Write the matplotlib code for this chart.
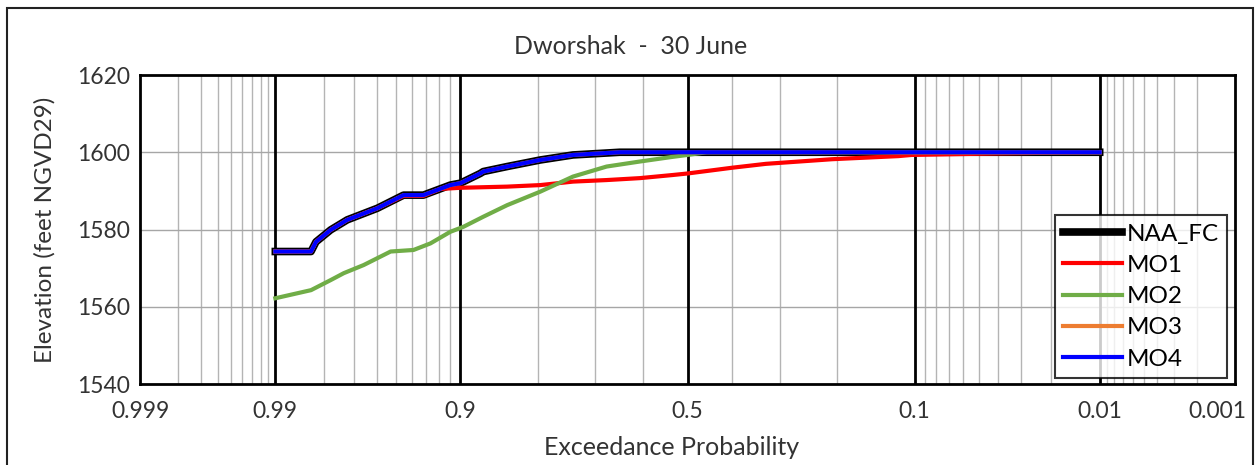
import numpy as np
import matplotlib
matplotlib.use("Agg")
import matplotlib.pyplot as plt
from matplotlib.patches import Rectangle
from matplotlib.transforms import ScaledTranslation
from statistics import NormalDist

plt.rcParams['font.family'] = ['Lato', 'DejaVu Sans']

# exceedance probability / elevation (ft)
naa_p = [0.99, 0.9832, 0.982, 0.978, 0.9726, 0.960, 0.9455, 0.932, 0.9097, 0.90,
         0.879, 0.8755, 0.8457, 0.797, 0.741, 0.676, 0.649, 0.5, 0.1, 0.01]
naa_elev = [1574.3, 1574.3, 1576.8, 1579.9, 1582.5, 1585.5, 1588.9, 1588.9, 1591.5, 1592.0,
            1594.5, 1595.0, 1596.3, 1598.0, 1599.3, 1599.8, 1600.0, 1600.0, 1600.0, 1600.0]

mo1_p = [0.99, 0.9832, 0.982, 0.978, 0.9726, 0.960, 0.9455, 0.932, 0.9185, 0.90,
         0.8457, 0.797, 0.741, 0.676, 0.606, 0.534, 0.5, 0.40, 0.329,
         0.207, 0.117, 0.103, 0.0396, 0.0182, 0.01]
mo1_elev = [1574.3, 1574.3, 1576.8, 1579.9, 1582.5, 1585.5, 1588.7, 1588.7, 1590.5, 1590.8,
            1591.1, 1591.5, 1592.4, 1592.8, 1593.3, 1594.1, 1594.5, 1596.0, 1597.0,
            1598.2, 1599.0, 1599.3, 1599.7, 1599.9, 1600.0]

mo2_p = [0.99, 0.9832, 0.978, 0.9738, 0.9662, 0.9531, 0.939, 0.9266, 0.9097, 0.897,
         0.8755, 0.8457, 0.797, 0.741, 0.676, 0.606, 0.534, 0.5, 0.457, 0.1, 0.01]
mo2_elev = [1562.2, 1564.3, 1566.9, 1568.7, 1570.8, 1574.3, 1574.7, 1576.4, 1579.4, 1580.7,
            1583.3, 1586.3, 1589.8, 1593.7, 1596.3, 1597.6, 1598.8, 1599.3, 1600.0, 1600.0, 1600.0]

# MO3 and MO4 coincide with NAA_FC
mo3_p, mo3_elev = naa_p, naa_elev
mo4_p, mo4_elev = naa_p, naa_elev

tick_probs = [0.999, 0.99, 0.9, 0.5, 0.1, 0.01, 0.001]
tick_labels = ['0.999', '0.99', '0.9', '0.5', '0.1', '0.01', '0.001']
major_probs = [0.99, 0.9, 0.5, 0.1, 0.01]
minor_probs = ([0.998, 0.997, 0.996, 0.995, 0.994, 0.993, 0.992, 0.991] +
               [0.98, 0.97, 0.96, 0.95, 0.94, 0.93, 0.92, 0.91] +
               [0.8, 0.7, 0.6, 0.4, 0.3, 0.2] +
               [0.09, 0.08, 0.07, 0.06, 0.05, 0.04, 0.03, 0.02] +
               [0.009, 0.008, 0.007, 0.006, 0.005, 0.004, 0.003, 0.002])

nd = NormalDist()


def to_x(p):
    # normal probability scale, high exceedance on the left
    return np.array([-nd.inv_cdf(v) for v in np.atleast_1d(p)])


fig = plt.figure(figsize=(12.57, 4.65), dpi=100)
ax = fig.add_axes([140/1257, 1-384/465, 1095/1257, 309/465])

for p in minor_probs:
    ax.axvline(to_x(p)[0], color='#b4b4b4', lw=1.0, zorder=1)
for y in [1560, 1580, 1600]:
    ax.axhline(y, color='#a6a6a6', lw=1.0, zorder=1)
for p in major_probs:
    ax.axvline(to_x(p)[0], color='black', lw=2.0, zorder=1)

ax.plot(to_x(naa_p), naa_elev, color='black', lw=5.5, label='NAA_FC', zorder=3)
ax.plot(to_x(mo1_p), mo1_elev, color='#ff0000', lw=3, label='MO1', zorder=3)
ax.plot(to_x(mo2_p), mo2_elev, color='#70ad47', lw=3, label='MO2', zorder=3)
ax.plot(to_x(mo3_p), mo3_elev, color='#ed7d31', lw=3, label='MO3', zorder=3)
ax.plot(to_x(mo4_p), mo4_elev, color='#0000ff', lw=3, label='MO4', zorder=4)

ax.set_xlim(to_x(0.999)[0], to_x(0.001)[0])
ax.set_ylim(1540, 1620)
ax.set_xticks(to_x(tick_probs))
ax.set_xticklabels(tick_labels)
ax.set_yticks([1540, 1560, 1580, 1600, 1620])
ax.tick_params(length=0, labelsize=16.5, labelcolor='#333333')
ax.tick_params(axis='x', pad=12)
ax.tick_params(axis='y', pad=7)
# last label is pulled inside the chart area, as in the original
lab = ax.get_xticklabels()[-1]
lab.set_transform(lab.get_transform() + ScaledTranslation(-0.18, 0, fig.dpi_scale_trans))
for s in ax.spines.values():
    s.set_linewidth(2)
    s.set_color('black')
    s.set_zorder(5)

ax.set_ylabel('Elevation (feet NGVD29)', fontsize=17.5, color='#333333')
ax.yaxis.set_label_coords(-0.077, 0.5)
fig.text(672/1257, 1-447/465, 'Exceedance Probability', fontsize=18, color='#333333',
         ha='center', va='center')
fig.text(631/1257, 1-47/465, 'Dworshak  -  30 June', fontsize=18, color='#333333',
         ha='center', va='center')

leg = ax.legend(loc='lower right', bbox_to_anchor=(0.9927, 0.019), fontsize=17.5,
                frameon=True, fancybox=False, handlelength=2.4, handletextpad=0.2,
                labelspacing=0.42, borderpad=0.35, borderaxespad=0)
leg.get_frame().set_edgecolor('black')
leg.get_frame().set_linewidth(1.5)
leg.set_zorder(6)

fig.patches.append(Rectangle((7/1257, -0.1), 1246/1257, 1.1 - 8/465, transform=fig.transFigure,
                             fill=False, ec='#222222', lw=1.5))

plt.savefig('out.png', dpi=100)
